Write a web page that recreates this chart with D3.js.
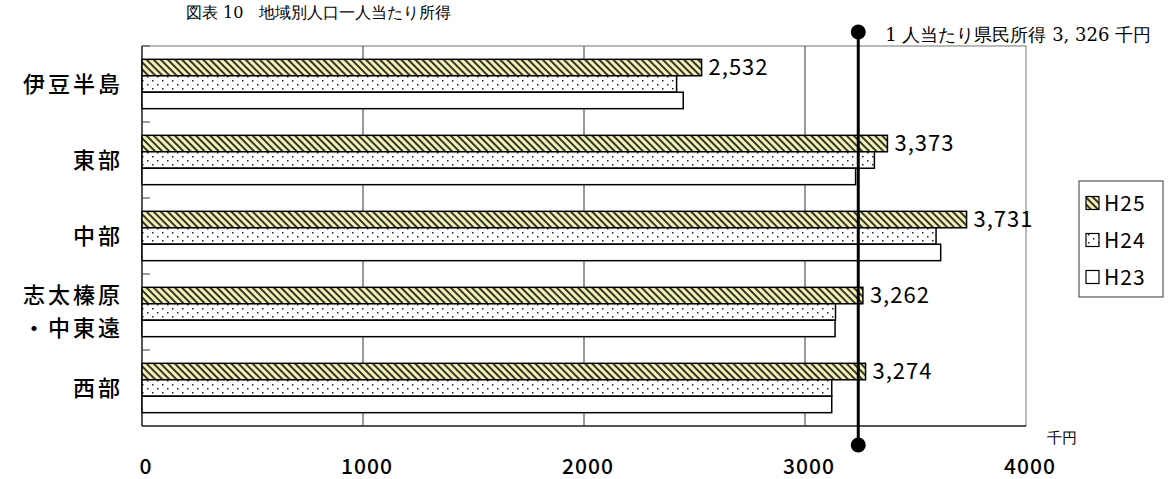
<!DOCTYPE html>
<html>
<head>
<meta charset="utf-8">
<script src="https://cdn.jsdelivr.net/npm/d3@7"></script>
<style>
  body { margin: 0; background: #fff; }
  svg { display: block; }
</style>
</head>
<body>
<div id="chart"></div>
<script>
// Data (千円)
const regions = ['伊豆半島', '東部', '中部', '志太榛原\n・中東遠', '西部']
const series = ['H25', 'H24', 'H23']
const h25 = [2532, 3373, 3731, 3262, 3274]
const h24 = [2419, 3314, 3593, 3138, 3121]
const h23 = [2449, 3229, 3614, 3136, 3121]
const xTicks = [0, 1000, 2000, 3000, 4000]
// the marker line sits a bit left of its stated value in the source picture
const refLineAt = 3241
const refLabel = '1 人当たり県民所得 3, 326 千円'
const title = '図表 10　地域別人口一人当たり所得'

const W = 1175
const H = 479
const plot = { left: 142, right: 1026, top: 46, bottom: 426 }

const svg = d3.select('#chart').append('svg')
  .attr('width', W)
  .attr('height', H)

// --- PATTERNS ---
const defs = svg.append('defs')
const hatch = defs.append('pattern')
  .attr('id', 'hatch')
  .attr('patternUnits', 'userSpaceOnUse')
  .attr('width', 5)
  .attr('height', 5)
  .attr('patternTransform', 'rotate(45)')
hatch.append('rect').attr('width', 5).attr('height', 5).attr('fill', '#f3f2b6')
hatch.append('rect').attr('width', 5).attr('height', 2).attr('fill', '#34342a')

const dots = defs.append('pattern')
  .attr('id', 'dots')
  .attr('patternUnits', 'userSpaceOnUse')
  .attr('width', 10)
  .attr('height', 8)
dots.append('rect').attr('width', 10).attr('height', 8).attr('fill', '#fff')
dots.append('rect').attr('x', 2).attr('y', 2).attr('width', 1.5).attr('height', 1.5).attr('fill', '#222')
dots.append('rect').attr('x', 7).attr('y', 6).attr('width', 1.5).attr('height', 1.5).attr('fill', '#222')

const fills = { H25: 'url(#hatch)', H24: 'url(#dots)', H23: '#fff' }

// --- SCALES ---
const x = d3.scaleLinear().domain([0, 4000]).range([plot.left, plot.right])
const y = d3.scaleBand().domain(regions).range([plot.top, plot.bottom]).paddingInner(0).paddingOuter(0)
const yInner = d3.scaleBand().domain(series).range([0, y.bandwidth()]).paddingOuter(0.81).paddingInner(0)

const rows = regions.map((r, i) => ({ region: r, H25: h25[i], H24: h24[i], H23: h23[i] }))

// --- GRID & FRAME ---
svg.append('rect')
  .attr('x', plot.left).attr('y', plot.top)
  .attr('width', plot.right - plot.left).attr('height', plot.bottom - plot.top)
  .attr('fill', 'none').attr('stroke', '#8a8a8a').attr('stroke-width', 1.2)

svg.append('g').selectAll('line')
  .data(xTicks.slice(1, -1))
  .enter().append('line')
  .attr('x1', d => x(d)).attr('x2', d => x(d))
  .attr('y1', plot.top).attr('y2', plot.bottom)
  .attr('stroke', '#555').attr('stroke-width', 1.2)

svg.append('line')
  .attr('x1', plot.left).attr('x2', plot.left)
  .attr('y1', plot.top).attr('y2', plot.bottom)
  .attr('stroke', '#333').attr('stroke-width', 1.5)
svg.append('line')
  .attr('x1', plot.left).attr('x2', plot.right)
  .attr('y1', plot.bottom).attr('y2', plot.bottom)
  .attr('stroke', '#333').attr('stroke-width', 1.5)

// category tick marks (inside, on band edges)
svg.append('g').selectAll('line')
  .data(regions)
  .enter().append('line')
  .attr('x1', plot.left).attr('x2', plot.left + 8)
  .attr('y1', d => y(d)).attr('y2', d => y(d))
  .attr('stroke', '#555').attr('stroke-width', 1.2)

// --- BARS ---
const groups = svg.append('g').selectAll('g')
  .data(rows)
  .enter().append('g')
  .attr('transform', d => `translate(0,${y(d.region)})`)

groups.selectAll('rect')
  .data(d => series.map(s => ({ key: s, value: d[s] })))
  .enter().append('rect')
  .attr('x', x(0))
  .attr('y', d => yInner(d.key))
  .attr('width', d => x(d.value) - x(0))
  .attr('height', yInner.bandwidth())
  .attr('fill', d => fills[d.key])
  .attr('stroke', '#000')
  .attr('stroke-width', 1.5)

// value labels for H25
groups.append('text')
  .attr('x', d => x(d.H25) + 7)
  .attr('y', yInner('H25') + yInner.bandwidth() / 2)
  .attr('dy', '0.36em')
  .style('font-family', '"Noto Sans CJK JP", sans-serif')
  .style('font-size', '22px')
  .style('letter-spacing', '1px')
  .style('fill', '#000')
  .text(d => d3.format(',')(d.H25))

// category labels (one text per line so the two-line label stays apart)
const lh = 33
const catLines = []
regions.forEach(r => {
  const parts = r.split('\n')
  parts.forEach((t, i) => {
    catLines.push({ text: t, cy: y(r) + y.bandwidth() / 2 + (i - (parts.length - 1) / 2) * lh })
  })
})
svg.append('g').selectAll('text')
  .data(catLines)
  .enter().append('text')
  .attr('text-anchor', 'end')
  .attr('x', 123)
  .attr('y', d => d.cy)
  .attr('dy', '0.36em')
  .style('font-family', '"Noto Sans CJK JP", sans-serif')
  .style('font-weight', '500')
  .style('font-size', '22px')
  .style('letter-spacing', '3px')
  .style('fill', '#000')
  .text(d => d.text)

// x tick labels
svg.append('g').selectAll('text')
  .data(xTicks)
  .enter().append('text')
  .attr('x', d => x(d) + 4)
  .attr('y', 474)
  .attr('text-anchor', 'middle')
  .style('font-family', '"Noto Sans CJK JP", sans-serif')
  .style('font-weight', '500')
  .style('font-size', '21px')
  .style('letter-spacing', '1px')
  .style('fill', '#000')
  .text(d => d)

svg.append('text')
  .attr('x', 1047).attr('y', 443)
  .style('font-family', '"DejaVu Serif", serif')
  .style('font-size', '15px')
  .text('千円')

// --- REFERENCE LINE ---
const refX = x(refLineAt)
svg.append('line')
  .attr('x1', refX).attr('x2', refX)
  .attr('y1', 32).attr('y2', 445)
  .attr('stroke', '#000').attr('stroke-width', 3)
svg.selectAll('circle.ref')
  .data([32, 445])
  .enter().append('circle')
  .attr('class', 'ref')
  .attr('cx', refX).attr('cy', d => d).attr('r', 7.5)
  .attr('fill', '#000')
svg.append('text')
  .attr('x', refX + 27).attr('y', 41)
  .style('font-family', '"DejaVu Serif", serif')
  .style('font-size', '18px')
  .text(refLabel)

// --- TITLE ---
svg.append('text')
  .attr('x', 186).attr('y', 18)
  .style('font-family', '"DejaVu Serif", serif')
  .style('font-size', '16px')
  .text(title)

// --- LEGEND ---
const legend = svg.append('g').attr('transform', 'translate(1079,181)')
legend.append('rect')
  .attr('width', 84).attr('height', 116)
  .attr('fill', '#fff').attr('stroke', '#555').attr('stroke-width', 1.2)
const item = legend.selectAll('g')
  .data(series)
  .enter().append('g')
  .attr('transform', (d, i) => `translate(7,${22 + i * 37})`)
item.append('rect')
  .attr('x', 0).attr('y', -6.5)
  .attr('width', 13).attr('height', 13)
  .attr('fill', d => fills[d])
  .attr('stroke', '#000').attr('stroke-width', 1.2)
item.append('text')
  .attr('x', 18).attr('dy', '0.36em')
  .style('font-family', '"Noto Sans CJK JP", sans-serif')
  .style('font-size', '21px')
  .style('letter-spacing', '1px')
  .text(d => d)
</script>
</body>
</html>
